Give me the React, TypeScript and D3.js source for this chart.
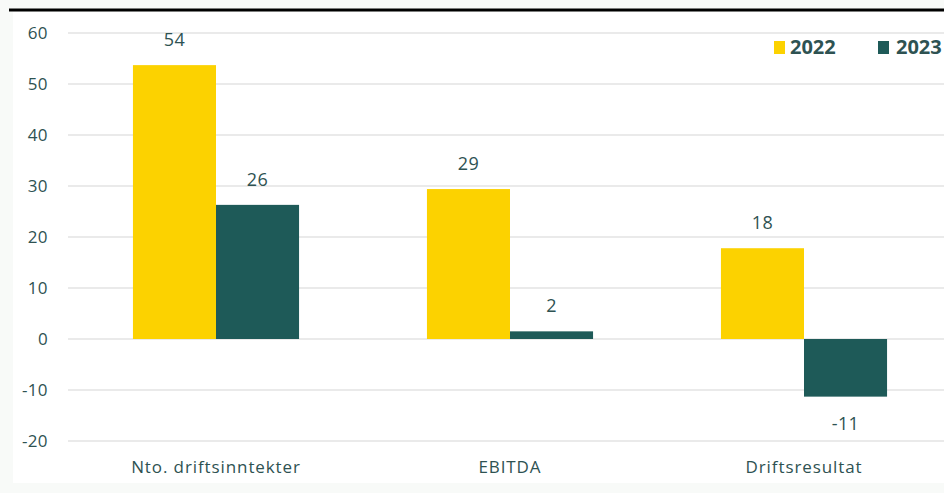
import React from 'react';
import * as d3 from 'd3';

// data (MNOK)
const categories = ['Nto. driftsinntekter', 'EBITDA', 'Driftsresultat'];
const seriesNames = ['2022', '2023'];
const values2022 = [53.7, 29.4, 17.8];
const values2023 = [26.3, 1.5, -11.3];
const yTicks = [60, 50, 40, 30, 20, 10, 0, -10, -20];

const W = 944;
const H = 493;
const colors = ['#FCD200', '#1E5A58'];
const textColor = '#2E5252';
const font = '"Open Sans", "Liberation Sans", sans-serif';

export default function App() {
  const x = d3.scaleBand<string>().domain(categories).range([69, 951]).paddingInner(0.435).paddingOuter(0.2175);
  const x1 = d3.scaleBand<string>().domain(seriesNames).range([0, x.bandwidth()]);
  const y = d3.scaleLinear().domain([-20, 60]).range([441, 33]);

  const series = [values2022, values2023];

  return (
    <div style={{ position: 'fixed', left: 0, top: 0 }}>
      <svg width={W} height={H} style={{ display: 'block' }} fontFamily={font}>
        <rect x={0} y={0} width={W} height={H} fill="#f8faf8" />
        <rect x={13} y={12} width={W} height={471} fill="#ffffff" />
        <line x1={9} x2={W} y1={10} y2={10} stroke="#000" strokeWidth={3} />

        {yTicks.map((t) => (
          <g key={t}>
            <line x1={68} x2={W} y1={y(t)} y2={y(t)} stroke="#e3e3e3" strokeWidth={1.5} />
            <text x={48} y={y(t)} dy="0.35em" textAnchor="end" fontSize={17} letterSpacing={0.4} fill={textColor}>
              {t}
            </text>
          </g>
        ))}

        {categories.map((c, i) => (
          <g key={c} transform={`translate(${x(c)},0)`}>
            {series.map((vals, s) => {
              const v = vals[i];
              const bx = x1(seriesNames[s]) as number;
              const top = Math.min(y(v), y(0));
              const h = Math.abs(y(v) - y(0));
              const ly = v >= 0 ? y(v) - 19 : y(v) + 33;
              return (
                <g key={s}>
                  <rect x={bx} y={top} width={x1.bandwidth()} height={h} fill={colors[s]} />
                  <text x={bx + x1.bandwidth() / 2} y={ly} textAnchor="middle" fontSize={18} letterSpacing={0.4} fill={textColor}>
                    {Math.round(v)}
                  </text>
                </g>
              );
            })}
            <text x={x.bandwidth() / 2} y={473} textAnchor="middle" fontSize={17} letterSpacing={0.9} fill={textColor}>
              {c}
            </text>
          </g>
        ))}

        {seriesNames.map((n, s) => (
          <g key={n} transform={`translate(${774 + s * 104},0)`}>
            <rect x={0} y={41} width={11} height={13} fill={colors[s]} />
            <text x={16 + s * 2} y={54} fontSize={20} fontWeight="bold" fill={textColor}>
              {n}
            </text>
          </g>
        ))}
      </svg>
    </div>
  );
}
